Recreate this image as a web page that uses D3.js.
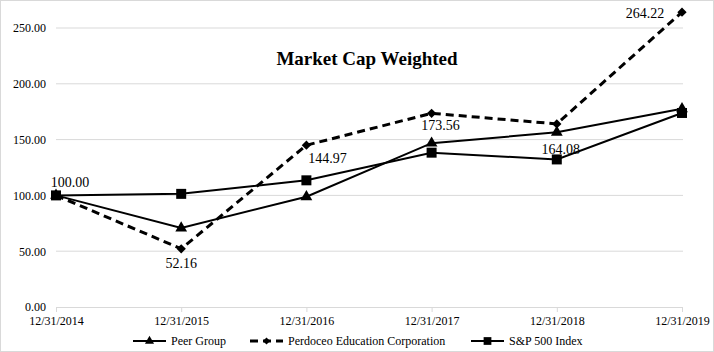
<!DOCTYPE html>
<html>
<head>
<meta charset="utf-8">
<script src="https://cdn.jsdelivr.net/npm/d3@7"></script>
<style>
  body { margin: 0; background: #fff; }
  svg text { font-family: "Liberation Serif", "Times New Roman", Times, serif; fill: #000; }
</style>
</head>
<body>
<svg id="chart" width="714" height="352"></svg>
<script>
var years = ["12/31/2014", "12/31/2015", "12/31/2016", "12/31/2017", "12/31/2018", "12/31/2019"];
var peerGroup = [100, 70.8, 98.8, 146.8, 156.5, 177.6];
var perdoceo = [100, 52.16, 144.97, 173.56, 164.08, 264.22];
var sp500 = [100, 101.38, 113.51, 138.29, 132.23, 173.86];
var yTicks = [0, 50, 100, 150, 200, 250];

var serif = "'Liberation Serif', 'Times New Roman', Times, serif";
var svg = d3.select("#chart");

// outer frame
svg.append("rect")
    .attr("x", 0.5).attr("y", 0.5)
    .attr("width", 713).attr("height", 351)
    .attr("fill", "none").attr("stroke", "#d9d9d9");

var x = d3.scalePoint().domain(years).range([56, 682]);
var y = d3.scaleLinear().domain([0, 250]).range([307, 28]);

// gridlines
svg.append("g").selectAll("line")
    .data(yTicks.slice(1))
    .enter().append("line")
    .attr("x1", 56).attr("x2", 683)
    .attr("y1", function (d) { return y(d); })
    .attr("y2", function (d) { return y(d); })
    .attr("stroke", "#d9d9d9").attr("stroke-width", 1);

// y axis labels
var yAxis = svg.append("g")
    .attr("transform", "translate(56,0)")
    .call(d3.axisLeft(y).tickValues(yTicks).tickSize(0).tickPadding(10)
        .tickFormat(d3.format(".2f")));
yAxis.attr("font-family", serif).attr("font-size", 12);
yAxis.select(".domain").remove();

// x axis
var xAxis = svg.append("g")
    .attr("transform", "translate(0," + y(0) + ")")
    .call(d3.axisBottom(x).tickSize(5).tickPadding(4));
xAxis.attr("font-family", serif).attr("font-size", 12);
xAxis.select(".domain").attr("stroke", "#d9d9d9").attr("d", "M56,0.5H683");
xAxis.selectAll(".tick line").attr("stroke", "#d9d9d9");

// title
svg.append("text")
    .attr("x", 367).attr("y", 65)
    .attr("text-anchor", "middle")
    .style("font-size", "19px")
    .style("font-weight", "bold")
    .text("Market Cap Weighted");

var line = d3.line()
    .x(function (d, i) { return x(years[i]); })
    .y(function (d) { return y(d); });

var series = [
    { name: "Peer Group", values: peerGroup, dash: null, width: 2, symbol: d3.symbolTriangle, size: 60 },
    { name: "Perdoceo Education Corporation", values: perdoceo, dash: "8,5", width: 3, symbol: d3.symbolDiamond2, size: 55 },
    { name: "S&P 500 Index", values: sp500, dash: null, width: 2, symbol: d3.symbolSquare, size: 100 }
];

series.forEach(function (s) {
    svg.append("path")
        .datum(s.values)
        .attr("d", line)
        .attr("fill", "none")
        .attr("stroke", "#000")
        .attr("stroke-width", s.width)
        .attr("stroke-dasharray", s.dash);
});

// markers drawn after lines
series.forEach(function (s) {
    svg.append("g").selectAll("path")
        .data(s.values)
        .enter().append("path")
        .attr("transform", function (d, i) { return "translate(" + x(years[i]) + "," + y(d) + ")"; })
        .attr("d", d3.symbol().type(s.symbol).size(s.size))
        .attr("fill", "#000");
});

// data labels for Perdoceo
var labelOffsets = [[14, -8], [0, 19], [21, 18], [9, 17], [4, 30], [-37, 6]];
svg.append("g").selectAll("text")
    .data(perdoceo)
    .enter().append("text")
    .attr("x", function (d, i) { return x(years[i]) + labelOffsets[i][0]; })
    .attr("y", function (d, i) { return y(d) + labelOffsets[i][1]; })
    .attr("text-anchor", "middle")
    .style("font-size", "14px")
    .text(function (d) { return d.toFixed(2); });

// legend
var legendX = [133, 250, 471];
var legend = svg.append("g").selectAll("g")
    .data(series)
    .enter().append("g")
    .attr("transform", function (d, i) { return "translate(" + legendX[i] + ",341)"; });
legend.append("line")
    .attr("x1", 0).attr("x2", 33)
    .attr("stroke", "#000")
    .attr("stroke-width", function (d) { return d.width; })
    .attr("stroke-dasharray", function (d) { return d.dash; });
legend.append("path")
    .attr("transform", "translate(16.5,0)")
    .attr("d", function (d) { return d3.symbol().type(d.symbol).size(d.size * 0.6)(); })
    .attr("fill", "#000");
legend.append("text")
    .attr("x", 38).attr("y", 4)
    .style("font-size", "12px")
    .text(function (d) { return d.name; });
</script>
</body>
</html>
